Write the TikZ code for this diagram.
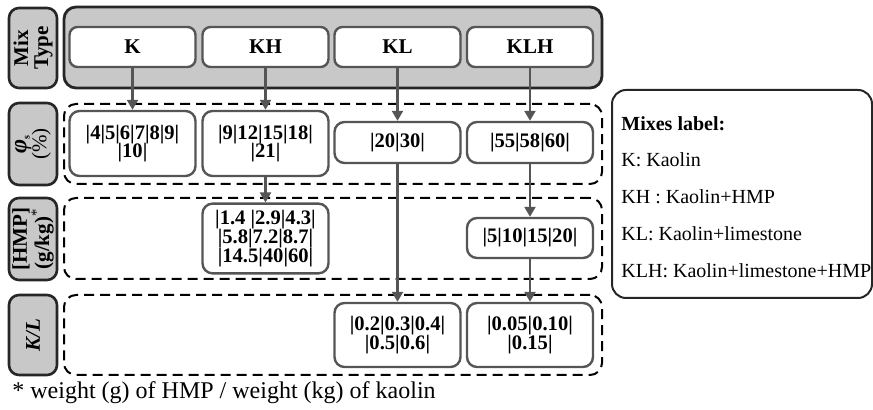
\documentclass[tikz,border=0pt]{standalone}
\usepackage{fontspec}
\setmainfont{Liberation Serif}
\usetikzlibrary{arrows.meta}
\definecolor{boxgray}{RGB}{200,200,200}
\definecolor{linegray}{RGB}{85,85,85}
\tikzset{
  hdrbox/.style={draw=black!85, line width=1.3pt, fill=boxgray, rounded corners=5pt,
    minimum width=24pt, inner sep=1pt},
  hdrtext/.style={rotate=90, align=center, font=\bfseries\fontsize{10.5}{10}\selectfont},
  typebox/.style={draw=linegray, line width=1.2pt, fill=white, rounded corners=4pt,
    minimum width=63pt, minimum height=20pt, font=\bfseries\fontsize{10.5}{11}\selectfont},
  valbox/.style={draw=linegray, line width=1.2pt, fill=white, rounded corners=5pt,
    minimum width=63pt, align=center, font=\bfseries\fontsize{10.3}{9.4}\selectfont},
  group/.style={draw=black, line width=1pt, dash pattern=on 5pt off 3pt,
    rounded corners=6pt, minimum width=269pt, minimum height=40pt},
  flow/.style={draw=linegray, line width=1.1pt, -{Triangle[length=5pt,width=5.5pt]}},
  legtext/.style={anchor=west, font=\fontsize{10}{11}\selectfont, inner sep=0pt}
}
\begin{document}
\begin{tikzpicture}[x=0.5pt,y=-0.5pt]
\useasboundingbox (0,0) rectangle (873,410);
% row headers
\node[hdrbox, minimum height=40pt] (hmix) at (33,48) {};
\node[hdrtext] at (hmix) {Mix\\Type};
\node[hdrbox, minimum height=41pt] (hphi) at (33,144) {};
\node[hdrtext] at (hphi) {{\itshape\fontsize{12}{10}\selectfont φ}\textsubscript{\tiny s}\\{\mdseries(\%)}};
\node[hdrbox, minimum height=41pt] (hhmp) at (33,239) {};
\node[hdrtext] at (hhmp) {[HMP]\\(g/kg){\mdseries\textsuperscript{*}}};
\node[hdrbox, minimum height=40pt] (hkl) at (33,335) {};
\node[hdrtext] at (hkl) {\itshape K/L};

% mix types
\node[draw=black!85, line width=1.4pt, fill=boxgray, rounded corners=6pt,
  minimum width=269pt, minimum height=40.5pt] (mix) at (333,47.5) {};
\node[typebox] (tK) at (132.5,47) {K};
\node[typebox] (tKH) at (265.5,47) {KH};
\node[typebox] (tKL) at (397.5,47) {KL};
\node[typebox] (tKLH) at (530,47) {KLH};

% volume fraction
\node[group] (gphi) at (333,144) {};
\node[valbox, minimum height=32.5pt] (pK) at (132.5,143.5) {|4|5|6|7|8|9|\\|10|};
\node[valbox, minimum height=32.5pt] (pKH) at (265.5,143.5) {|9|12|15|18|\\|21|};
\node[valbox, minimum height=20.5pt] (pKL) at (397.5,142.5) {|20|30|};
\node[valbox, minimum height=20.5pt] (pKLH) at (530,142.5) {|55|58|60|};

% HMP dosage
\node[group, minimum height=40.5pt] (ghmp) at (333,238.5) {};
\node[valbox, minimum height=32.5pt] (hKH) at (265.5,238.5) {|1.4 |2.9|4.3|\\|5.8|7.2|8.7|\\|14.5|40|60|};
\node[valbox, minimum height=20pt] (hKLH) at (530,238) {|5|10|15|20|};

% kaolin / limestone
\node[group] (gkl) at (333,335) {};
\node[valbox, minimum height=32pt] (kKL) at (397.5,335) {|0.2|0.3|0.4|\\|0.5|0.6|};
\node[valbox, minimum height=32pt] (kKLH) at (530,335) {|0.05|0.10|\\|0.15|};

% legend
\node[draw=black!85, line width=1pt, rounded corners=7pt,
  minimum width=130pt, minimum height=104pt] (legend) at (742,194) {};
\node[legtext] (leg0) at (621,124) {\bfseries Mixes label:};
\node[legtext] (leg1) at (621,160) {K: Kaolin};
\node[legtext] (leg2) at (621,197) {KH : Kaolin+HMP};
\node[legtext] (leg3) at (621,234) {KL: Kaolin+limestone};
\node[legtext] (leg4) at (621,271) {KLH: Kaolin+limestone+HMP};

\node[legtext, font=\fontsize{12}{13}\selectfont] (note) at (12,393) {* weight (g) of HMP / weight (kg) of kaolin};

\draw[flow] (tK) -- (pK);
\draw[flow] (tKH) -- (pKH);
\draw[flow] (tKL) -- (pKL);
\draw[flow] (tKLH) -- (pKLH);
\draw[flow] (pKH) -- (hKH);
\draw[flow] (pKL) -- (kKL);
\draw[flow] (pKLH) -- (hKLH);
\draw[flow] (hKLH) -- (kKLH);
\end{tikzpicture}
\end{document}
